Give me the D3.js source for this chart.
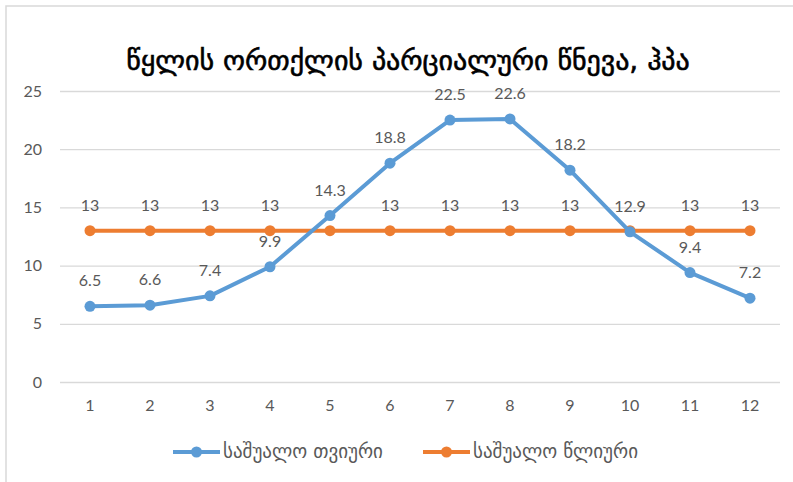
<!DOCTYPE html>
<html><head><meta charset="utf-8">
<script src="https://cdn.jsdelivr.net/npm/d3@7/dist/d3.min.js"></script>
<style>
html,body{margin:0;padding:0;background:#fff;}
svg{display:block;}
</style></head>
<body>
<svg id="chart" width="793" height="482"></svg>
<script>
const titleText = "წყლის ორთქლის პარციალური წნევა, ჰპა";
const months = ["1","2","3","4","5","6","7","8","9","10","11","12"];
const monthly = [6.5, 6.6, 7.4, 9.9, 14.3, 18.8, 22.5, 22.6, 18.2, 12.9, 9.4, 7.2];
const annual = [13, 13, 13, 13, 13, 13, 13, 13, 13, 13, 13, 13];
const seriesNames = ["საშუალო თვიური", "საშუალო წლიური"];
const yTicks = [0, 5, 10, 15, 20, 25];

const colors = ["#5b9bd5", "#ed7d31"];
const svg = d3.select("#chart");
const W = 793, H = 482;
const numFont = "Lato, 'Open Sans', sans-serif";

// outer frame
svg.append("path").attr("d", `M6,${H} L6,6 L${W},6`).attr("fill","none")
  .attr("stroke","#d9d9d9").attr("stroke-width",1.5);

const x = d3.scaleBand().domain(months).range([60, 780]);
const y = d3.scaleLinear().domain([0, 25]).range([382, 91]);

const yAxis = d3.axisLeft(y).tickValues(yTicks).tickSize(-(780-60)).tickPadding(18);
const gy = svg.append("g").attr("transform","translate(60,0)").call(yAxis);
gy.select(".domain").remove();
gy.selectAll(".tick line").attr("stroke","#d9d9d9").attr("stroke-width",1.3);
gy.selectAll(".tick text").attr("fill","#595959").style("font-family",numFont).style("font-size","16px");

const xAxis = d3.axisBottom(x).tickSize(0).tickPadding(18);
const gx = svg.append("g").attr("transform","translate(0,382)").call(xAxis);
gx.select(".domain").remove();
gx.selectAll(".tick text").attr("fill","#595959").style("font-family",numFont).style("font-size","16px");

const cx = i => x(months[i]) + x.bandwidth()/2;
const line = d3.line().x((d,i)=>cx(i)).y(d=>y(d));

[[annual, colors[1]], [monthly, colors[0]]].forEach(([data, col]) => {
  svg.append("path").datum(data).attr("d", line).attr("fill","none")
    .attr("stroke", col).attr("stroke-width", 4).attr("stroke-linejoin","round");
  svg.append("g").selectAll("circle").data(data).join("circle")
    .attr("cx",(d,i)=>cx(i)).attr("cy",d=>y(d)).attr("r",5.5).attr("fill",col);
});

// data labels (annual labels hidden where they collide with monthly ones, as in the reference)
const labelSets = [
  annual.map((v,i)=>({v,i})).filter(o => Math.abs(monthly[o.i]-o.v) > 1.5),
  monthly.map((v,i)=>({v,i}))
];
labelSets.forEach(set => {
  svg.append("g").selectAll("text").data(set).join("text")
    .attr("x",o=>cx(o.i)).attr("y",o=>y(o.v)-20)
    .attr("text-anchor","middle").attr("fill","#595959")
    .style("font-family",numFont).style("font-size","16px")
    .text(o=>o.v);
});

// title
svg.append("text").attr("x", 408).attr("y", 70).attr("text-anchor","middle")
  .style("font-family","'DejaVu Sans', sans-serif").style("font-size","28px")
  .attr("fill","#000").attr("stroke","#000").attr("stroke-width",0.6)
  .text(titleText);

// legend
const legend = [{name: seriesNames[0], col: colors[0], x: 173}, {name: seriesNames[1], col: colors[1], x: 423}];
legend.forEach(l => {
  const g = svg.append("g").attr("transform", `translate(${l.x},452)`);
  g.append("line").attr("x1",0).attr("x2",47).attr("y1",0).attr("y2",0).attr("stroke",l.col).attr("stroke-width",4);
  g.append("circle").attr("cx",23.5).attr("cy",0).attr("r",5.5).attr("fill",l.col);
  g.append("text").attr("x",50).attr("y",6).attr("fill","#595959")
    .style("font-family","'DejaVu Sans', sans-serif").style("font-size","19px").text(l.name);
});
</script>
</body></html>
